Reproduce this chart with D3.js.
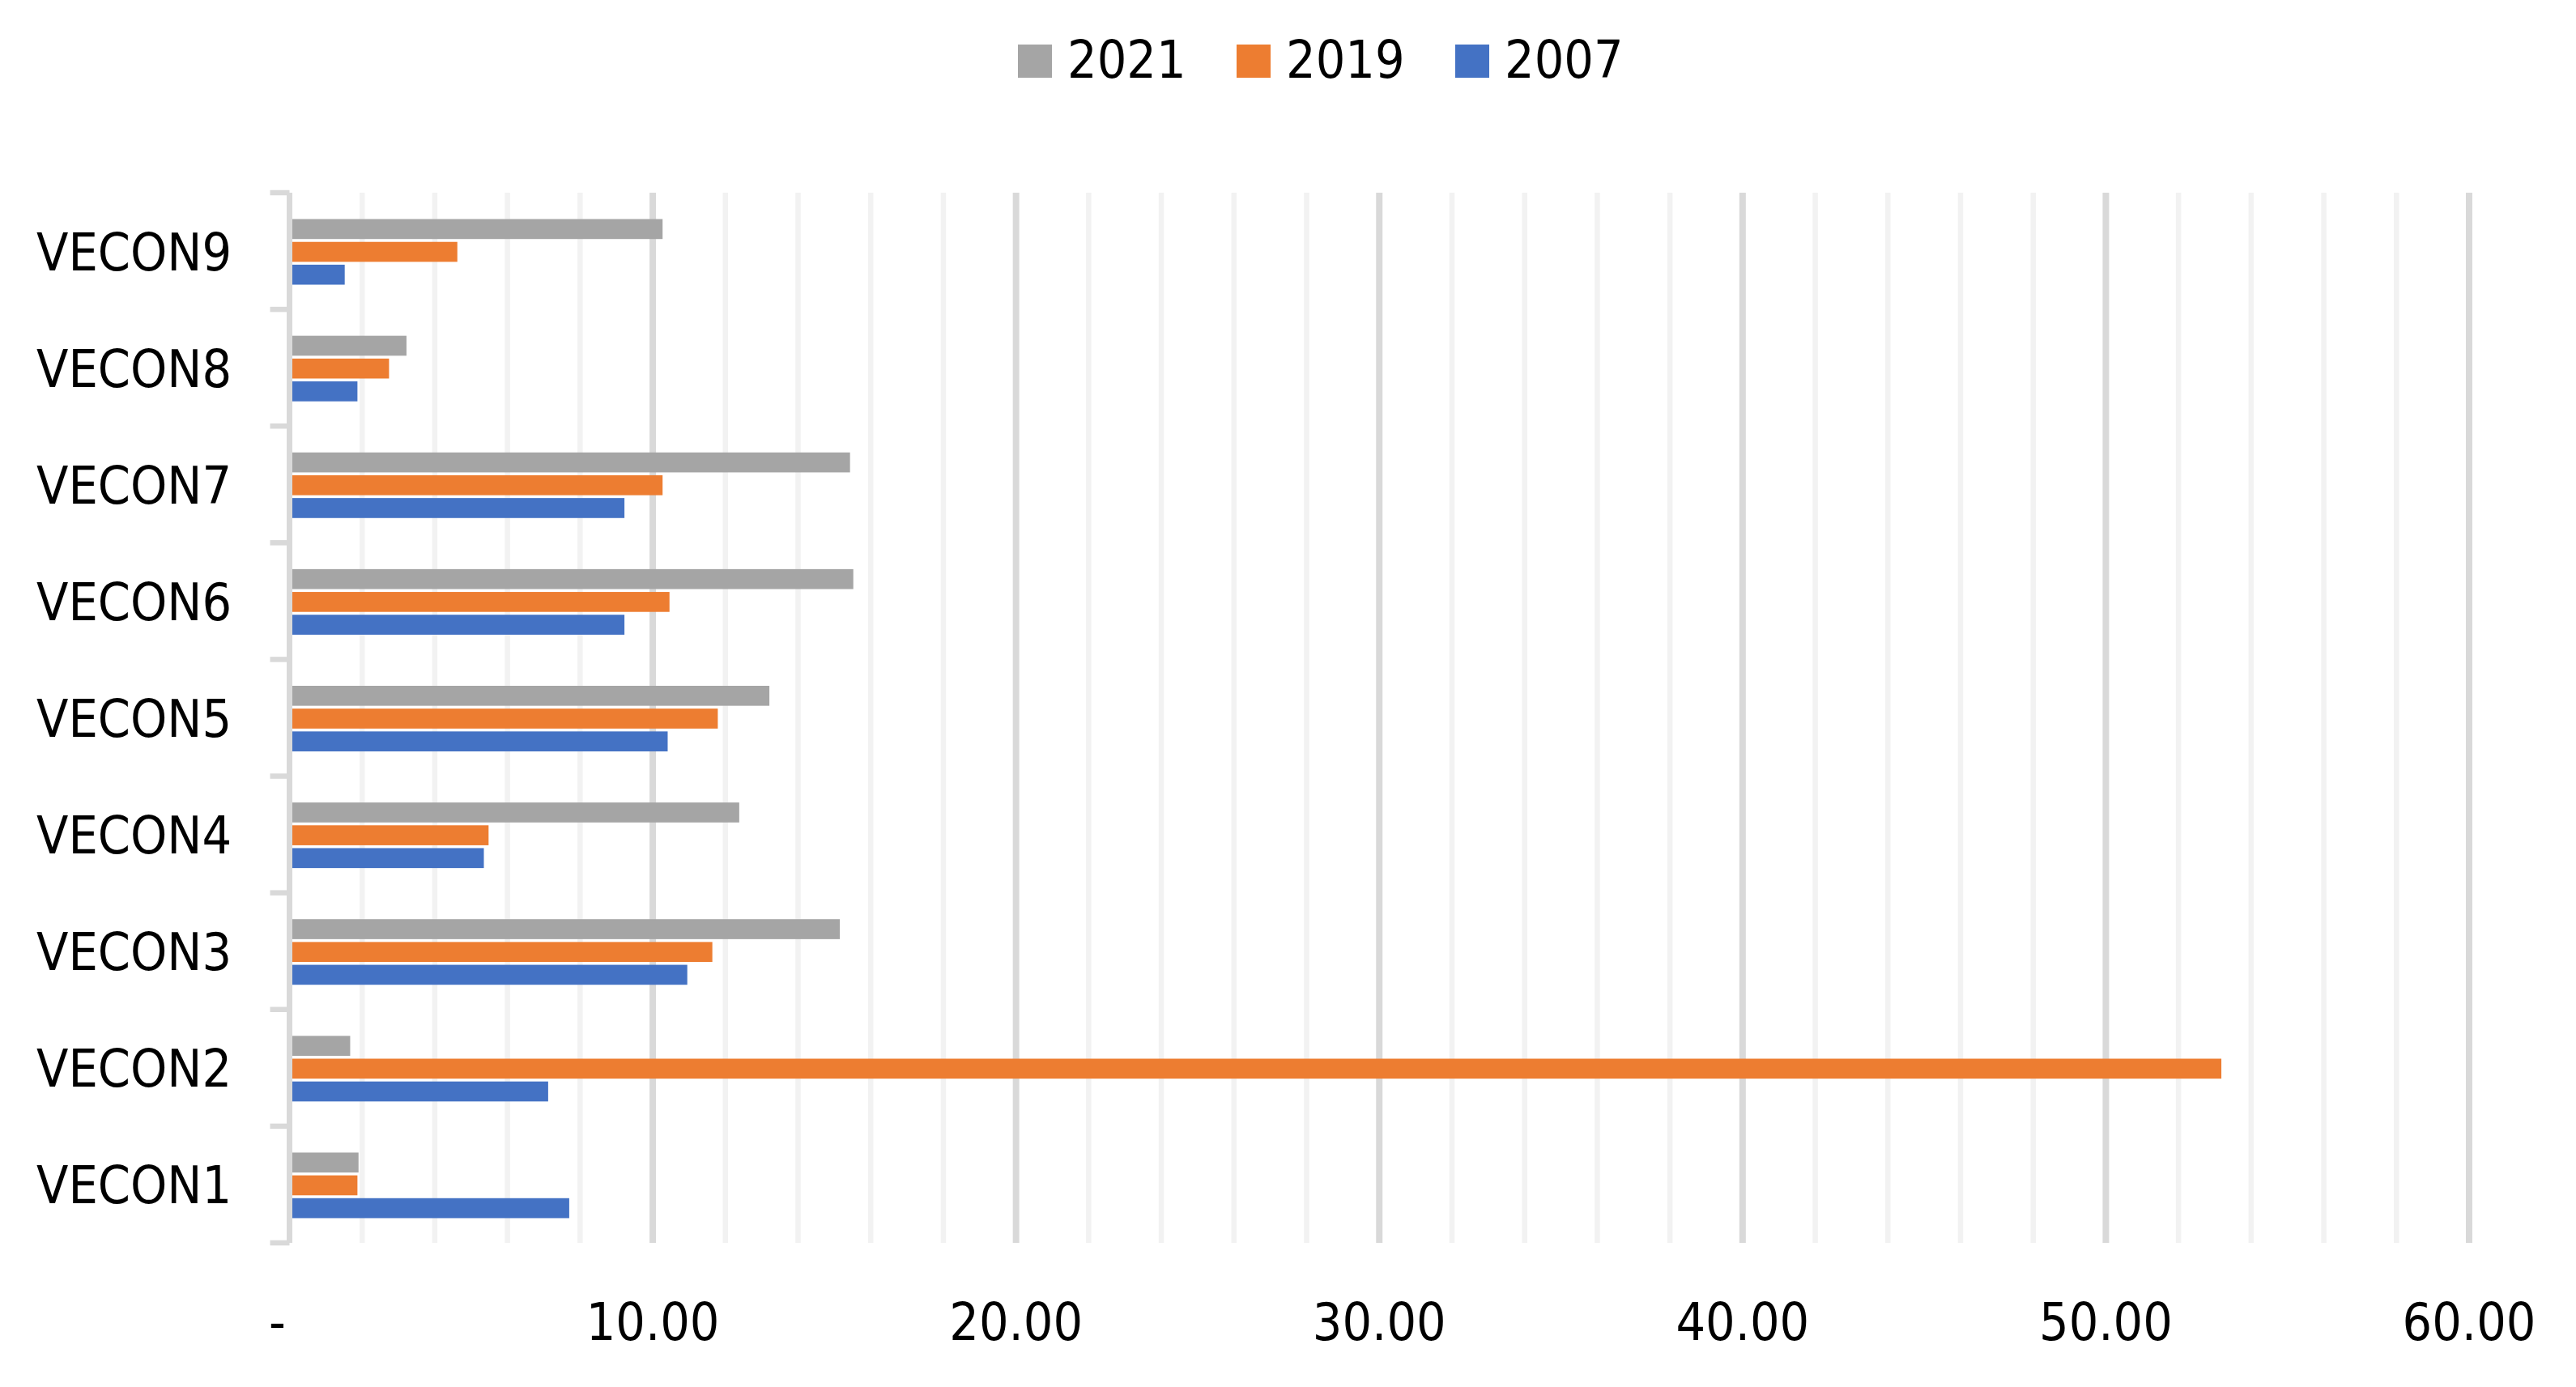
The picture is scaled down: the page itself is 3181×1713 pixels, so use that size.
<!DOCTYPE html>
<html>
<head>
<meta charset="utf-8">
<script src="https://cdn.jsdelivr.net/npm/d3@7/dist/d3.min.js"></script>
<style>
  html, body { margin: 0; padding: 0; background: #ffffff; }
  svg text { font-family: 'DejaVu Sans Condensed', 'DejaVu Sans', sans-serif; font-stretch: condensed; fill: #000000; }
</style>
</head>
<body>
<svg id="chart" width="3181" height="1713"></svg>
<script>
// ---- data ----
const categories = ["VECON9", "VECON8", "VECON7", "VECON6", "VECON5", "VECON4", "VECON3", "VECON2", "VECON1"];
const seriesNames = ["2021", "2019", "2007"];
const values2021 = [10.27, 3.22, 15.43, 15.52, 13.21, 12.38, 15.15, 1.67, 1.90];
const values2019 = [4.62, 2.74, 10.27, 10.46, 11.79, 5.48, 11.64, 53.18, 1.87];
const values2007 = [1.52, 1.87, 9.22, 9.22, 10.41, 5.35, 10.95, 7.12, 7.70];
const xTickValues = [0, 10, 20, 30, 40, 50, 60];
const xTickLabels = ["-", "10.00", "20.00", "30.00", "40.00", "50.00", "60.00"];
const colors = { "2021": "#A5A5A5", "2019": "#ED7D31", "2007": "#4472C4" };

const seriesValues = { "2021": values2021, "2019": values2019, "2007": values2007 };

const svg = d3.select("#chart");
const plotTop = 238, plotBottom = 1535;

const x = d3.scaleLinear().domain([0, 60]).range([357.5, 3049]);
const y = d3.scaleBand().domain(categories).range([plotTop, plotBottom]).paddingInner(0).paddingOuter(0);
const groupH = 81;
const ySub = d3.scaleBand().domain(seriesNames).range([0, groupH]).paddingInner(0.125).paddingOuter(0);

// gridlines
const minor = d3.range(2, 60, 2).filter(v => v % 10 !== 0);
const major = [10, 20, 30, 40, 50, 60];
svg.append("g").selectAll("line").data(minor).join("line")
  .attr("x1", d => x(d)).attr("x2", d => x(d))
  .attr("y1", plotTop).attr("y2", plotBottom)
  .attr("stroke", "#F2F2F2").attr("stroke-width", 6.5);
svg.append("g").selectAll("line").data(major).join("line")
  .attr("x1", d => x(d)).attr("x2", d => x(d))
  .attr("y1", plotTop).attr("y2", plotBottom)
  .attr("stroke", "#D9D9D9").attr("stroke-width", 8);

// bars
const data = [];
categories.forEach((c, i) => {
  seriesNames.forEach(s => data.push({ cat: c, series: s, value: seriesValues[s][i] }));
});
const offset = (y.bandwidth() - groupH) / 2 + 1;
svg.append("g").selectAll("rect").data(data).join("rect")
  .attr("x", x(0))
  .attr("y", d => y(d.cat) + offset + ySub(d.series))
  .attr("width", d => x(d.value) - x(0))
  .attr("height", ySub.bandwidth())
  .attr("fill", d => colors[d.series]);

// y axis line + ticks
svg.append("line")
  .attr("x1", x(0)).attr("x2", x(0))
  .attr("y1", plotTop).attr("y2", plotBottom)
  .attr("stroke", "#D9D9D9").attr("stroke-width", 7);
const boundaries = categories.map(c => y(c)).concat([plotBottom]);
svg.append("g").selectAll("line").data(boundaries).join("line")
  .attr("x1", x(0) - 24).attr("x2", x(0))
  .attr("y1", d => d).attr("y2", d => d)
  .attr("stroke", "#D9D9D9").attr("stroke-width", 6.5);

// y labels
svg.append("g").selectAll("text").data(categories).join("text")
  .attr("x", 286)
  .attr("y", d => y(d) + y.bandwidth() / 2 + 23.5)
  .attr("text-anchor", "end")
  .attr("font-size", 64)
  .text(d => d);

// x labels
svg.append("g").selectAll("text").data(xTickValues).join("text")
  .attr("x", (d, i) => d === 0 ? x(d) - 15 : x(d))
  .attr("y", 1655)
  .attr("text-anchor", "middle")
  .attr("font-size", 64)
  .text((d, i) => xTickLabels[i]);

// legend
const legendX = [1257, 1527, 1797];
const lg = svg.append("g").selectAll("g").data(seriesNames).join("g")
  .attr("transform", (d, i) => `translate(${legendX[i]},0)`);
lg.append("rect").attr("x", 0).attr("y", 55).attr("width", 42).attr("height", 41)
  .attr("fill", d => colors[d]);
lg.append("text").attr("x", 61).attr("y", 96).attr("font-size", 64).text(d => d);
</script>
</body>
</html>
